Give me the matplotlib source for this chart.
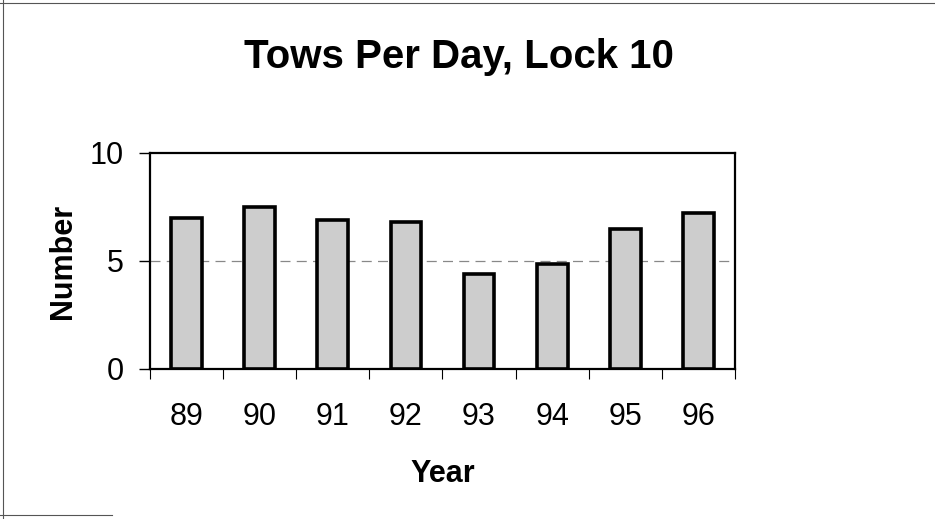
import matplotlib
matplotlib.use("Agg")
import matplotlib.pyplot as plt
from matplotlib.lines import Line2D
import numpy as np

# data
years = ["89", "90", "91", "92", "93", "94", "95", "96"]
tows_per_day = [7.0, 7.5, 6.9, 6.8, 4.4, 4.85, 6.5, 7.2]
y_ticks = [0, 5, 10]

plt.rcParams['font.family'] = ['Liberation Sans', 'DejaVu Sans']

fig = plt.figure(figsize=(9.35, 5.19), dpi=100)
ax = fig.add_axes([150 / 935, 1 - 369 / 519, 585 / 935, 216 / 519])

x = np.arange(len(years))
ax.bar(x, tows_per_day, width=0.42, color='#cdcdcd', edgecolor='black',
       linewidth=2.6, zorder=3)

ax.set_xlim(-0.5, len(years) - 0.5)
ax.set_ylim(0, 10)
ax.set_yticks(y_ticks)
ax.set_xticks(x)
ax.set_xticklabels(years)
ax.set_xticks(np.arange(-0.5, len(years)), minor=True)

# only the 5 gridline shows inside the plot
ax.axhline(5, color='#888888', linewidth=0.9, linestyle=(0, (8, 5)), zorder=1)

for side in ['left', 'right', 'top', 'bottom']:
    ax.spines[side].set_linewidth(1.6)
    ax.spines[side].set_color('black')

ax.tick_params(axis='y', which='major', length=8, width=1, direction='out',
               labelsize=22, pad=11)
ax.tick_params(axis='x', which='major', length=0, labelsize=22, pad=24)
ax.tick_params(axis='x', which='minor', length=7, width=0.8, direction='out')

ax.set_xlabel("Year", fontsize=22, fontweight='bold', labelpad=19)
ax.set_ylabel("Number", fontsize=22, fontweight='bold', labelpad=8)

fig.text(459 / 935, 1 - 68 / 519, "Tows Per Day, Lock 10", fontsize=29,
         fontweight='bold', ha='center', va='baseline')

# thin scan border around the chart
fig.add_artist(Line2D([0, 1], [0.994, 0.994], color='#555555', linewidth=0.8,
                      transform=fig.transFigure))
fig.add_artist(Line2D([0.003, 0.003], [0, 1], color='#555555', linewidth=0.8,
                      transform=fig.transFigure))
fig.add_artist(Line2D([0, 0.12], [0.008, 0.008], color='#555555', linewidth=0.8,
                      transform=fig.transFigure))

fig.savefig("out.png", dpi=100)
